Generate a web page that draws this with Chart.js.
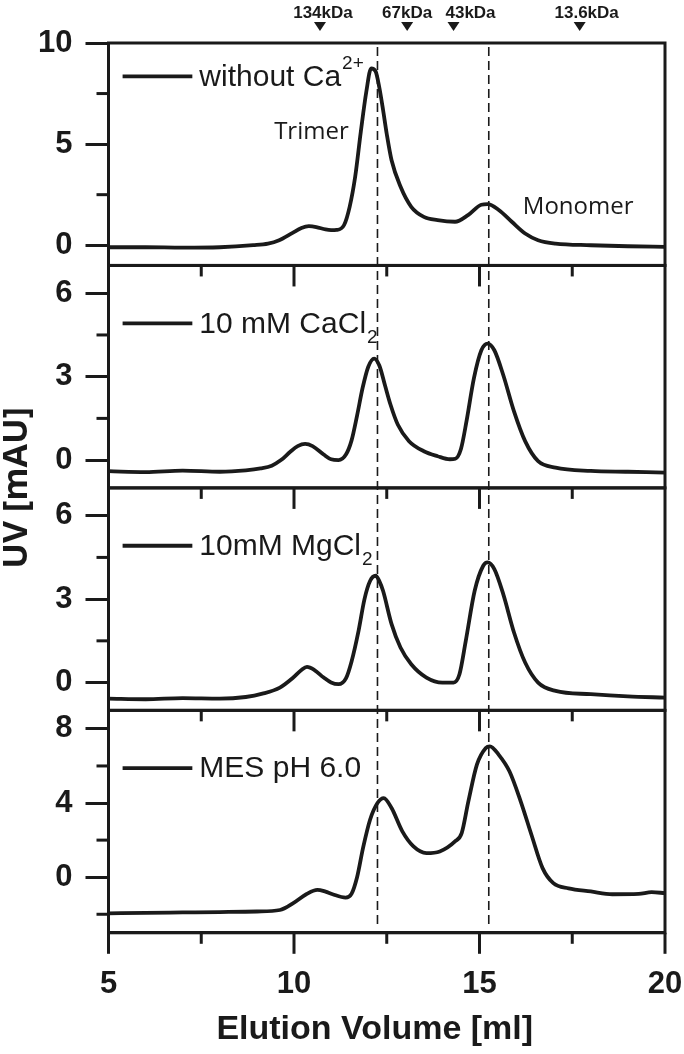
<!DOCTYPE html>
<html>
<head>
<meta charset="utf-8">
<script src="https://cdn.jsdelivr.net/npm/chart.js@4/dist/chart.umd.min.js"></script>
<style>
  html, body { margin: 0; padding: 0; background: #fff; }
  #wrap { width: 684px; height: 1054px; }
</style>
</head>
<body>
<div id="wrap"><canvas id="sec"></canvas></div>
<script>
// SEC elution profiles (x = elution volume in ml, y = UV in mAU)
const volNoCa = [5, 6, 7, 8, 8.9, 9.3, 9.6, 9.95, 10.2, 10.4, 10.6, 10.85, 11.0, 11.15, 11.35, 11.5, 11.65, 11.8, 11.95, 12.08, 12.2, 12.3, 12.4, 12.5, 12.63, 12.87, 13.16, 13.5, 13.87, 14.34, 14.7, 15.05, 15.22, 15.52, 15.87, 16.23, 16.58, 17.05, 18, 19, 20];
const uvNoCa  = [-0.1, -0.1, -0.12, -0.1, 0.0, 0.08, 0.25, 0.6, 0.85, 0.94, 0.9, 0.78, 0.75, 0.76, 1.0, 1.9, 3.4, 5.6, 7.6, 8.75, 8.6, 7.8, 6.7, 5.5, 4.2, 2.9, 1.9, 1.4, 1.24, 1.16, 1.5, 2.0, 2.03, 1.74, 1.16, 0.58, 0.25, 0.08, 0.0, -0.05, -0.08];

const volCa = [5, 6, 7, 8, 8.7, 9.1, 9.4, 9.65, 9.9, 10.1, 10.3, 10.5, 10.8, 11.0, 11.2, 11.4, 11.55, 11.7, 11.85, 12.0, 12.16, 12.3, 12.45, 12.6, 12.8, 13.1, 13.5, 13.87, 14.2, 14.35, 14.5, 14.65, 14.85, 15.05, 15.22, 15.4, 15.64, 15.93, 16.23, 16.58, 17.05, 18, 19, 20];
const uvCa  = [-0.4, -0.43, -0.38, -0.42, -0.37, -0.3, -0.2, 0.0, 0.3, 0.5, 0.58, 0.5, 0.2, 0.03, 0.0, 0.2, 0.7, 1.6, 2.6, 3.35, 3.65, 3.4, 2.7, 2.0, 1.27, 0.68, 0.32, 0.14, 0.03, 0.05, 0.4, 1.4, 2.95, 3.95, 4.19, 3.95, 3.06, 1.75, 0.68, -0.04, -0.27, -0.39, -0.42, -0.45];

const volMg = [5, 6, 7, 8, 8.7, 9.15, 9.62, 9.98, 10.2, 10.35, 10.55, 10.8, 11.0, 11.2, 11.4, 11.55, 11.74, 11.9, 12.05, 12.2, 12.3, 12.4, 12.63, 12.87, 13.16, 13.57, 14.0, 14.3, 14.46, 14.63, 14.87, 15.1, 15.22, 15.4, 15.64, 15.93, 16.23, 16.58, 17.05, 18, 19, 20];
const uvMg  = [-0.58, -0.6, -0.56, -0.58, -0.52, -0.4, -0.18, 0.18, 0.45, 0.56, 0.45, 0.18, 0.0, -0.06, 0.15, 0.75, 1.86, 3.0, 3.65, 3.84, 3.65, 3.3, 2.1, 1.26, 0.66, 0.18, 0.0, 0.0, 0.3, 1.5, 3.3, 4.2, 4.32, 4.08, 3.18, 1.8, 0.72, 0.0, -0.3, -0.42, -0.5, -0.54];

const volMes = [5, 6, 7, 8, 9, 9.62, 9.98, 10.33, 10.63, 10.85, 11.04, 11.39, 11.55, 11.7, 11.86, 12.05, 12.25, 12.42, 12.63, 12.92, 13.22, 13.57, 13.93, 14.34, 14.52, 14.7, 14.93, 15.17, 15.28, 15.52, 15.81, 16.11, 16.4, 16.7, 16.99, 17.4, 18, 18.58, 19.29, 19.64, 20];
const uvMes  = [-1.95, -1.92, -1.9, -1.88, -1.85, -1.77, -1.4, -0.92, -0.68, -0.78, -0.92, -1.1, -0.9, 0.0, 1.57, 3.1, 4.0, 4.27, 3.73, 2.47, 1.66, 1.3, 1.39, 1.93, 2.38, 4.09, 6.07, 6.97, 7.06, 6.6, 5.7, 4.09, 2.29, 0.49, -0.32, -0.6, -0.77, -0.92, -0.9, -0.81, -0.86];

// panel legends: main text + small script (superscript or subscript)
const legendText   = ['without Ca', '10 mM CaCl', '10mM MgCl', 'MES pH 6.0'];
const legendScript = ['2+', '2', '2', ''];
const legendIsSup  = [true, false, false, false];

// y ranges and tick values of the four stacked panels
const yMin   = [-1, -1, -1, -3];
const yMax   = [10, 7, 7, 9];
const yTicks = [[0, 2.5, 5, 7.5, 10], [0, 1.5, 3, 4.5, 6], [0, 1.5, 3, 4.5, 6], [-2, 0, 2, 4, 6, 8]];
const yMajor = [5, 3, 3, 4];

// x ticks (labelled every 5 ml)
const xTicks = [5, 7.5, 10, 12.5, 15, 17.5, 20];
const xTitle = 'Elution Volume [ml]';
const yTitle = 'UV [mAU]';

// calibration standards and peak guide lines
const markerVol    = [10.7, 13.05, 14.3, 17.7];
const markerLabels = ['134kDa', '67kDa', '43kDa', '13.6kDa'];
const peakLines    = [12.25, 15.25];

const ink = '#1a1a1a';
const sans = "'Liberation Sans', Arial, sans-serif";
const tickFont = { family: sans, size: 31, weight: 'bold' };
const yIds = ['y1', 'y2', 'y3', 'y4'];

function pts(xs, ys) {
    return xs.map((v, i) => ({ x: v, y: ys[i] }));
}

const series = [pts(volNoCa, uvNoCa), pts(volCa, uvCa), pts(volMg, uvMg), pts(volMes, uvMes)];

const isMult = (v, m) => Math.abs(v / m - Math.round(v / m)) < 1e-6;

function yScale(i) {
    return {
        type: 'linear',
        position: 'left',
        stack: 'uv',
        stackWeight: 1,
        weight: 4 - i,
        min: yMin[i],
        max: yMax[i],
        afterBuildTicks: (axis) => { axis.ticks = yTicks[i].map((v) => ({ value: v })); },
        border: { color: ink, width: 3 },
        grid: {
            drawOnChartArea: false,
            tickLength: 23,
            tickWidth: 3,
            tickColor: (c) => (c.tick && isMult(c.tick.value, yMajor[i])) ? ink : 'rgba(0,0,0,0)'
        },
        ticks: {
            autoSkip: false,
            padding: 13,
            color: ink,
            font: tickFont,
            callback: (v) => isMult(v, yMajor[i]) ? String(v) : ''
        }
    };
}

// x tick marks are drawn by the plugin; the hidden tick length only spaces the labels
const scales = {
    x: {
        type: 'linear',
        min: 5,
        max: 20,
        afterBuildTicks: (axis) => { axis.ticks = xTicks.map((v) => ({ value: v })); },
        border: { color: ink, width: 3 },
        grid: {
            drawOnChartArea: false,
            tickLength: 33,
            tickColor: 'rgba(0,0,0,0)'
        },
        ticks: {
            autoSkip: false,
            maxRotation: 0,
            padding: 0,
            color: ink,
            font: tickFont,
            callback: (v) => isMult(v, 5) ? String(v) : ''
        }
    }
};
yIds.forEach((id, i) => { scales[id] = yScale(i); });

// frames, minor ticks, guide lines, legends, annotations and titles
const decor = {
    id: 'decor',
    afterDatasetsDraw(chart) {
        const ctx = chart.ctx;
        const area = chart.chartArea;
        const xs = chart.scales.x;
        ctx.save();
        ctx.strokeStyle = ink;
        ctx.fillStyle = ink;

        // dashed lines through trimer / monomer peaks
        ctx.lineWidth = 1.6;
        ctx.setLineDash([9, 5]);
        peakLines.forEach((v) => {
            const px = xs.getPixelForValue(v);
            ctx.beginPath();
            ctx.moveTo(px, area.top + 4);
            ctx.lineTo(px, area.bottom - 4);
            ctx.stroke();
        });
        ctx.setLineDash([]);

        yIds.forEach((id, i) => {
            const s = chart.scales[id];
            ctx.lineWidth = 3;
            ctx.strokeRect(area.left, s.top, area.right - area.left, s.bottom - s.top);

            // minor y ticks
            s.ticks.forEach((t) => {
                if (isMult(t.value, yMajor[i])) return;
                const py = s.getPixelForValue(t.value);
                ctx.beginPath();
                ctx.moveTo(area.left - 12, py);
                ctx.lineTo(area.left, py);
                ctx.stroke();
            });

            // x ticks hanging from the bottom of every panel
            xs.ticks.forEach((t) => {
                const major = isMult(t.value, 5);
                if ((t.value === 5 || t.value === 20) && i < 3) return;
                const px = xs.getPixelForValue(t.value);
                ctx.beginPath();
                ctx.moveTo(px, s.bottom);
                ctx.lineTo(px, s.bottom + (major ? 21 : 11));
                ctx.stroke();
            });

            // legend entry
            const ly = s.getPixelForValue(yMax[i] - (i === 0 ? 1.65 : (yMax[i] - yMin[i]) * 0.26));
            const lx0 = xs.getPixelForValue(5.38);
            const lx1 = xs.getPixelForValue(7.26);
            ctx.lineWidth = 3.8;
            ctx.beginPath();
            ctx.moveTo(lx0, ly);
            ctx.lineTo(lx1, ly);
            ctx.stroke();
            ctx.font = "30px " + sans;
            ctx.textAlign = 'left';
            ctx.textBaseline = 'middle';
            const tx = lx1 + 7;
            ctx.fillText(legendText[i], tx, ly + 1);
            if (legendScript[i]) {
                const w = ctx.measureText(legendText[i]).width;
                ctx.font = "19px " + sans;
                ctx.fillText(legendScript[i], tx + w + 1, ly + (legendIsSup[i] ? -13 : 14));
            }
        });

        // annotations in the top panel
        const top = chart.scales.y1;
        ctx.font = "24px 'Open Sans', sans-serif";
        ctx.textAlign = 'center';
        ctx.textBaseline = 'alphabetic';
        ctx.fillText('Trimer', xs.getPixelForValue(10.47), top.getPixelForValue(5.27));
        ctx.fillText('Monomer', xs.getPixelForValue(17.66), top.getPixelForValue(1.54));

        // molecular weight standards above the plot
        const labelShift = [3, 0, 17, 7];
        ctx.font = "bold 17px 'Liberation Sans Narrow', " + sans;
        markerVol.forEach((v, k) => {
            const px = xs.getPixelForValue(v);
            ctx.fillText(markerLabels[k], px + labelShift[k], area.top - 25);
            ctx.beginPath();
            ctx.moveTo(px - 6, area.top - 21);
            ctx.lineTo(px + 6, area.top - 21);
            ctx.lineTo(px, area.top - 12);
            ctx.closePath();
            ctx.fill();
        });

        // x title, sitting slightly left of the axis centre as in the figure
        ctx.font = "bold 34px " + sans;
        ctx.textBaseline = 'middle';
        ctx.fillText(xTitle, (area.left + area.right) / 2 - 12, chart.height - 24);

        // shared y title
        ctx.translate(17, (area.top + area.bottom) / 2);
        ctx.rotate(-Math.PI / 2);
        ctx.font = "bold 34px 'Open Sans', sans-serif";
        ctx.fillText(yTitle, 0, 0);
        ctx.restore();
    }
};

new Chart(document.getElementById('sec'), {
    type: 'line',
    data: {
        datasets: series.map((d, i) => ({
            label: legendText[i],
            data: d,
            yAxisID: yIds[i],
            borderColor: ink,
            borderWidth: 3.8,
            pointRadius: 0,
            cubicInterpolationMode: 'monotone',
            fill: false
        }))
    },
    options: {
        responsive: true,
        maintainAspectRatio: false,
        animation: false,
        layout: { padding: { top: 43, left: 29, right: 19, bottom: 51 } },
        plugins: { legend: { display: false }, tooltip: { enabled: false } },
        scales: scales
    },
    plugins: [decor]
});
</script>
</body>
</html>
